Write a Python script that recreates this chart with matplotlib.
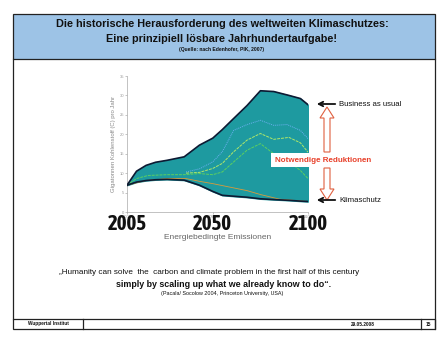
import numpy as np
import matplotlib
matplotlib.use("Agg")
import matplotlib.pyplot as plt
from matplotlib import font_manager
from matplotlib.patches import Rectangle, FancyArrow

plt.rcParams['font.family'] = ['Liberation Sans', 'DejaVu Sans']

# Energy related emissions, Gt carbon per year
years = [2005, 2010, 2015, 2020, 2026, 2035, 2043, 2050, 2055, 2060, 2068, 2075, 2082, 2090, 2096, 2100]
business_as_usual = [6.9, 10.5, 12.0, 12.8, 13.3, 14.2, 17.2, 19.0, 21.2, 23.6, 27.4, 31.2, 31.0, 30.0, 29.2, 27.6]
klimaschutz = [6.9, 7.7, 8.1, 8.3, 8.4, 8.2, 6.9, 5.3, 4.3, 4.1, 3.8, 3.4, 3.2, 3.0, 2.8, 2.7]

# intermediate scenarios
years_blue = [2036, 2043, 2050, 2055, 2061, 2068, 2075, 2082, 2089, 2096, 2100]
blue = [10.3, 11.1, 12.9, 15.5, 21.0, 22.5, 23.6, 22.3, 22.5, 21.0, 18.9]
years_lime = [2036, 2043, 2050, 2055, 2061, 2068, 2075, 2082, 2090, 2096, 2100]
lime = [10.0, 10.2, 11.2, 12.5, 15.5, 18.5, 20.2, 18.7, 19.2, 17.8, 15.4]
years_green = [2005, 2010, 2016, 2026, 2035, 2043, 2050, 2055, 2061, 2068, 2075, 2082, 2090, 2096, 2100]
green = [6.9, 8.6, 9.4, 9.6, 9.6, 9.9, 9.6, 10.3, 12.9, 15.9, 17.6, 15.0, 12.9, 10.7, 8.6]
years_orange = [2005, 2015, 2026, 2036, 2043, 2050, 2058, 2068, 2075, 2085, 2100]
orange = [6.9, 8.1, 8.6, 8.6, 7.9, 7.3, 6.5, 5.5, 4.5, 3.3, 2.7]

big_years = [2005, 2050, 2100]

# narrow bold face for the big year labels, if one is installed
narrow = None
for f in font_manager.fontManager.ttflist:
    if 'Narrow' in f.name or 'Condensed' in f.name:
        if f.weight in ('bold', 700) or 'Bold' in f.fname:
            narrow = f.fname
            break

W, H = 443, 340
fig = plt.figure(figsize=(W / 100, H / 100), dpi=100)

# slide frame drawn in pixel coordinates
frame = fig.add_axes([0, 0, 1, 1])
frame.set_xlim(0, W)
frame.set_ylim(H, 0)
frame.axis('off')

frame.add_patch(Rectangle((13, 14), 422, 45, facecolor='#9dc3e6', edgecolor='#222222', lw=0.9))
frame.plot([13, 13], [59, 319], color='#222222', lw=0.9)
frame.plot([435, 435], [59, 329], color='#222222', lw=0.9)
frame.add_patch(Rectangle((13, 319), 422, 10, facecolor='none', edgecolor='#222222', lw=0.9))
frame.plot([83, 83], [319, 329], color='#222222', lw=0.9)
frame.plot([421, 421], [319, 329], color='#222222', lw=0.9)

frame.text(222, 24, 'Die historische Herausforderung des weltweiten Klimaschutzes:',
           ha='center', va='center', fontsize=7.8, fontweight='bold', color='#111111')
frame.text(222, 38.5, 'Eine prinzipiell lösbare Jahrhundertaufgabe!',
           ha='center', va='center', fontsize=7.8, fontweight='bold', color='#111111')
frame.text(222, 50, '(Quelle: nach Edenhofer, PIK, 2007)',
           ha='center', va='center', fontsize=3.6, fontweight='bold', color='#111111')

frame.text(209, 273, '„Humanity can solve  the  carbon and climate problem in the first half of this century',
           ha='center', va='center', fontsize=5.9, color='#111111')
frame.text(224, 284.5, 'simply by scaling up what we already know to do“.',
           ha='center', va='center', fontsize=6.4, fontweight='bold', color='#111111')
frame.text(222, 293.5, '(Pacala/ Socolow 2004, Princeton University, USA)',
           ha='center', va='center', fontsize=3.9, color='#111111')

frame.text(48, 324, 'Wuppertal Institut', ha='center', va='center', fontsize=3.4,
           fontweight='bold', color='#111111')
frame.text(363, 324, '29.05.2008', ha='center', va='center', fontsize=3.4,
           fontweight='bold', color='#111111')
frame.text(428, 324, '15', ha='center', va='center', fontsize=3.4,
           fontweight='bold', color='#111111')

# emission chart
ax = fig.add_axes([127 / W, 1 - 212 / H, 181 / W, 136 / H])
ax.fill_between(years, klimaschutz, business_as_usual, color='#1e9aa0', zorder=1)
ax.plot(years, business_as_usual, color='#0d1a33', lw=1.2, zorder=3)
ax.plot(years, klimaschutz, color='#0d1a33', lw=1.2, zorder=3)
ax.plot(years_blue, blue, color='#6ab0f0', lw=0.7, ls=(0, (1, 1)), zorder=2)
ax.plot(years_lime, lime, color='#b0e868', lw=0.7, ls=(0, (3, 1)), zorder=2)
ax.plot(years_green, green, color='#5cd060', lw=0.7, ls=(0, (3, 1)), zorder=2)
ax.plot(years_orange, orange, color='#d89a3a', lw=0.6, zorder=2)

ax.set_xlim(2005, 2100)
ax.set_ylim(0, 35)
ax.set_yticks(range(0, 36, 5))
ax.set_xticks(big_years)
ax.tick_params(labelsize=3, colors='#999999', length=1.5, width=0.4, pad=0.5)
for side in ['top', 'right']:
    ax.spines[side].set_visible(False)
for side in ['left', 'bottom']:
    ax.spines[side].set_color('#aaaaaa')
    ax.spines[side].set_linewidth(0.5)
ax.set_ylabel('Gigatonnen Kohlenstoff (C) pro Jahr', fontsize=4.3, color='#888888', labelpad=3)

for yr in big_years:
    if narrow:
        kw = dict(fontproperties=font_manager.FontProperties(fname=narrow, size=15))
    else:
        kw = dict(fontsize=12, fontweight='bold', fontstretch='condensed',
                  family=['DejaVu Sans'])
    ax.text(yr, -0.088, str(yr), transform=ax.get_xaxis_transform(), ha='center', va='center',
            color='#111111', **kw)
ax.text(0.5, -0.185, 'Energiebedingte Emissionen', transform=ax.transAxes, ha='center',
        va='center', fontsize=6, color='#666666')

# annotations on top of the chart
over = fig.add_axes([0, 0, 1, 1], zorder=5)
over.set_xlim(0, W)
over.set_ylim(H, 0)
over.axis('off')
over.patch.set_alpha(0)

over.annotate('', xy=(314, 104), xytext=(338, 104),
              arrowprops=dict(arrowstyle='->', color='#111111', lw=1.3, mutation_scale=8))
over.text(339, 104, 'Business as usual', ha='left', va='center', fontsize=5.6, color='#111111')
over.annotate('', xy=(314, 200), xytext=(338, 200),
              arrowprops=dict(arrowstyle='->', color='#111111', lw=1.3, mutation_scale=8))
over.text(339, 200, 'Klimaschutz', ha='left', va='center', fontsize=5.6, color='#111111')

over.add_patch(FancyArrow(327, 152, 0, -45, width=6, head_width=14, head_length=11,
                          length_includes_head=True, facecolor='white', edgecolor='#e06040', lw=0.8))
over.add_patch(FancyArrow(327, 168, 0, 32, width=6, head_width=14, head_length=11,
                          length_includes_head=True, facecolor='white', edgecolor='#e06040', lw=0.8))
over.text(323, 160, 'Notwendige Reduktionen', ha='center', va='center', fontsize=5.8,
          fontweight='bold', color='#e8402a',
          bbox=dict(facecolor='white', edgecolor='none', pad=2.5))

fig.savefig('out.png', dpi=100)
